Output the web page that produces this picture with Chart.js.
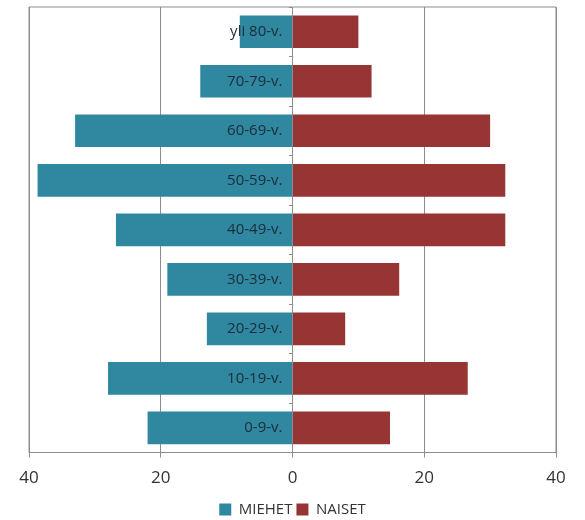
<!DOCTYPE html>
<html>
<head>
<meta charset="utf-8">
<script src="https://cdn.jsdelivr.net/npm/chart.js@4"></script>
<style>
  html, body { margin: 0; padding: 0; background: #fff; }
  #wrap { width: 585px; height: 520px; }
</style>
</head>
<body>
<div id="wrap"><canvas id="pyramid_chart"></canvas></div>
<script>
// age groups, top to bottom
const age_groups = ["yli 80-v.", "70-79-v.", "60-69-v.", "50-59-v.", "40-49-v.", "30-39-v.", "20-29-v.", "10-19-v.", "0-9-v."];
// men (drawn to the left, so negative)
const men = [8, 14, 33, 38.7, 26.8, 19, 13, 28, 22];
// women
const women = [10, 12, 30, 32.3, 32.3, 16.2, 8, 26.6, 14.8];
const x_ticks = [-40, -20, 0, 20, 40];

const ctx_pyramid = document.getElementById("pyramid_chart").getContext("2d");

// box round the plot area
const plotBorder = {
  id: "plotBorder",
  afterDraw(chart) {
    const a = chart.chartArea;
    const c = chart.ctx;
    c.save();
    c.strokeStyle = "#8c8c8c";
    c.lineWidth = 1;
    c.beginPath();
    c.moveTo(a.left, a.bottom);
    c.lineTo(a.left, a.top);
    c.lineTo(a.right, a.top);
    c.lineTo(a.right, a.bottom);
    c.stroke();
    c.restore();
  },
};

let chart = new Chart(ctx_pyramid, {
  type: "bar",
  data: {
    labels: age_groups,
    datasets: [
      {
        label: "MIEHET",
        data: men.map((v) => -v),
        backgroundColor: "#2f87a0",
        borderWidth: 0,
        barPercentage: 0.66,
        categoryPercentage: 1,
      },
      {
        label: "NAISET",
        data: women,
        backgroundColor: "#973434",
        borderWidth: 0,
        barPercentage: 0.66,
        categoryPercentage: 1,
      },
    ],
  },
  options: {
    indexAxis: "y",
    responsive: true,
    maintainAspectRatio: false,
    animation: false,
    layout: { padding: { left: 29, right: 29, top: 7, bottom: -7 } },
    plugins: {
      tooltip: { enabled: false },
      legend: {
        position: "bottom",
        labels: {
          boxWidth: 12,
          boxHeight: 12,
          padding: 4,
          color: "#333",
          font: { family: "Open Sans", size: 15 },
        },
      },
    },
    scales: {
      x: {
        stacked: true,
        min: -40,
        max: 40,
        afterBuildTicks: (axis) => {
          axis.ticks = x_ticks.map((v) => ({ value: v }));
        },
        ticks: {
          callback: (v) => Math.abs(v),
          color: "#333",
          font: { family: "Open Sans", size: 17 },
          padding: 10,
        },
        grid: { color: "#8c8c8c", tickLength: 5, tickColor: "#8c8c8c" },
        border: { color: "#8c8c8c" },
      },
      y: {
        stacked: true,
        position: { x: 0 },
        // labels sit inside the plot, so they need no extra room
        afterFit: (s) => {
          s.paddingTop = 0;
          s.paddingBottom = 0;
        },
        ticks: {
          z: 1,
          // padding is ignored at an object position, so leave a gap by hand
          callback: function (v) {
            return this.getLabelForValue(v) + "\u2002\u2009";
          },
          color: "#1c2c38",
          font: { family: "Open Sans", size: 15 },
        },
        grid: {
          drawOnChartArea: false,
          tickLength: 3,
          tickColor: "#8c8c8c",
          offset: true,
        },
        border: { color: "#8c8c8c" },
      },
    },
  },
  plugins: [plotBorder],
});
</script>
</body>
</html>
